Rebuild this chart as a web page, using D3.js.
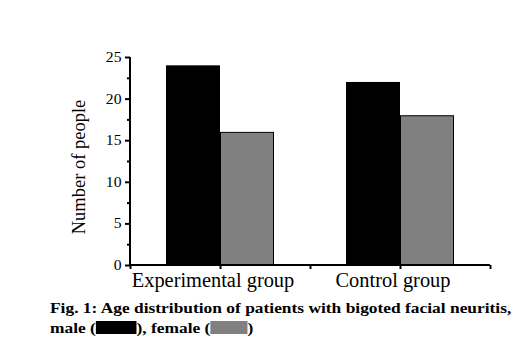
<!DOCTYPE html>
<html>
<head>
<meta charset="utf-8">
<script src="https://cdn.jsdelivr.net/npm/d3@7"></script>
<style>
  body { margin: 0; background: #fff; }
  text { font-family: "Liberation Serif", "Times New Roman", serif; }
</style>
</head>
<body>
<svg id="chart" width="521" height="354"></svg>
<script>
const groups = ['Experimental group', 'Control group']
const male = [24, 22]
const female = [16, 18]
const yTicks = [0, 5, 10, 15, 20, 25]

const svg = d3.select('#chart')
const textColor = '#000'
const maleColor = '#000000'
const femaleColor = '#808080'

// group i sits at x = 1 + 2i on a 0..4 axis
const xScale = d3.scaleLinear().domain([0, 4]).range([130, 490])
const yScale = d3.scaleLinear().domain([0, 25]).range([265, 57])
const barW = 0.6

// bars
svg.selectAll('.male')
  .data(male)
  .enter()
  .append('rect')
  .attr('x', (d, i) => xScale(1 + 2 * i - barW))
  .attr('y', d => yScale(d))
  .attr('width', xScale(barW) - xScale(0))
  .attr('height', d => yScale(0) - yScale(d))
  .style('fill', maleColor)

svg.selectAll('.female')
  .data(female)
  .enter()
  .append('rect')
  .attr('x', (d, i) => xScale(1 + 2 * i) + 0.5)
  .attr('y', d => yScale(d) + 0.5)
  .attr('width', xScale(barW) - xScale(0) - 1)
  .attr('height', d => yScale(0) - yScale(d) - 0.5)
  .style('fill', femaleColor)
  .style('stroke', '#000')
  .style('stroke-width', 1)

// y axis
const yAxis = svg.append('g')
  .attr('transform', `translate(${xScale(0)}, 0)`)
  .call(d3.axisLeft(yScale).tickValues(d3.range(0, 25.1, 2.5)).tickSize(4).tickFormat(''))
yAxis.selectAll('.tick line')
  .attr('x2', d => d % 5 === 0 ? -5 : -3)
  .attr('stroke-width', 2)
yAxis.select('.domain').attr('stroke-width', 2).attr('d', `M0,${yScale(25)}V${yScale(0) + 1}`)

svg.selectAll('.ylab')
  .data(yTicks)
  .enter()
  .append('text')
  .attr('transform', d => `translate(121.5, ${yScale(d) + 5}) scale(1.12,1)`)
  .attr('text-anchor', 'end')
  .style('font-size', '14px')
  .style('fill', textColor)
  .text(d => d)

// x axis
const xAxis = svg.append('g')
  .attr('transform', `translate(0, ${yScale(0)})`)
  .call(d3.axisBottom(xScale).ticks(4).tickSize(4).tickFormat(''))
xAxis.selectAll('.tick line').attr('stroke-width', 2)
xAxis.select('.domain').attr('stroke-width', 2).attr('d', `M${xScale(0) - 1},0H${xScale(4)}`)

svg.selectAll('.xlab')
  .data(groups)
  .enter()
  .append('text')
  .attr('transform', (d, i) => `translate(${xScale(1 + 2 * i) - 7}, 287) scale(1.02,1)`)
  .attr('text-anchor', 'middle')
  .style('font-size', '20px')
  .style('fill', textColor)
  .text(d => d)

// y axis title
svg.append('text')
  .attr('transform', 'translate(85, 167) rotate(-90)')
  .attr('text-anchor', 'middle')
  .style('font-size', '18.5px')
  .style('fill', textColor)
  .text('Number of people')

// caption, slightly stretched like the original
const caption = svg.append('g')
  .attr('transform', 'translate(50, 0) scale(1.16, 1)')

caption.append('text')
  .attr('x', 0)
  .attr('y', 313)
  .style('font-size', '15px')
  .style('font-weight', 'bold')
  .style('fill', textColor)
  .text('Fig. 1: Age distribution of patients with bigoted facial neuritis,')

// second caption line with inline swatches
const line2 = [
  { text: 'male (', swatch: maleColor, w: 35 },
  { text: '), female (', swatch: femaleColor, w: 32 },
  { text: ')', swatch: null }
]
let cx = 0
line2.forEach(part => {
  const t = caption.append('text')
    .attr('x', cx)
    .attr('y', 333.5)
    .style('font-size', '15px')
    .style('font-weight', 'bold')
    .style('fill', textColor)
    .text(part.text)
  cx += t.node().getComputedTextLength()
  if (part.swatch) {
    caption.append('rect')
      .attr('x', cx)
      .attr('y', 321)
      .attr('width', part.w)
      .attr('height', 13)
      .style('fill', part.swatch)
    cx += part.w
  }
})
</script>
</body>
</html>
